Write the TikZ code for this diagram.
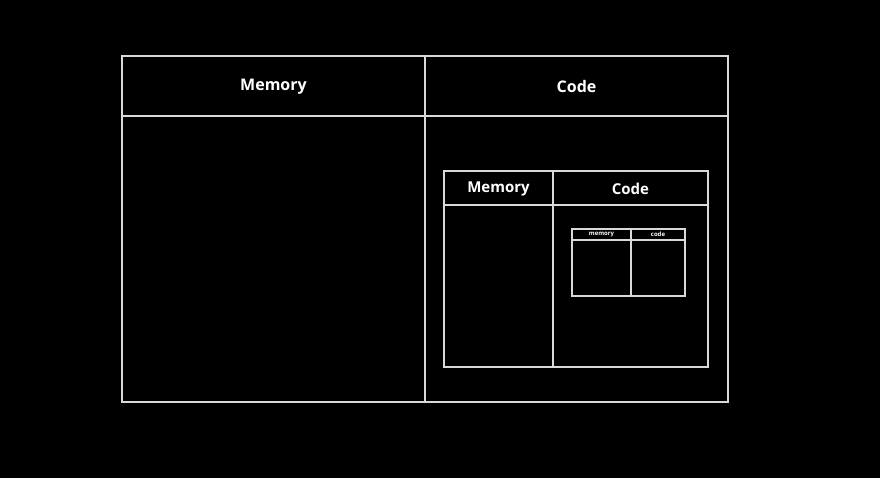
\documentclass[tikz,border=0pt]{standalone}
\usepackage{fontspec}
\setmainfont{Open Sans}
\begin{document}
\begin{tikzpicture}[x=1pt,y=-1pt,
  box/.style={draw=gray!30,line width=2.6pt},
  lbl/.style={text=white,font=\bfseries,inner sep=0pt}]
\fill[black] (0,0) rectangle (880,478);
\useasboundingbox (0,0) rectangle (880,478);
% outer
\draw[box] (122,56) rectangle (728,402);
\draw[box] (425,56) -- (425,402);
\draw[box] (122,116) -- (728,116);
\node[lbl,font=\bfseries\fontsize{16}{18}\selectfont] (m1) at (273.5,87) {Memory};
\node[lbl,font=\bfseries\fontsize{16}{18}\selectfont] (c1) at (576.5,87) {Code};
% middle
\draw[box] (444,171) rectangle (708,367);
\draw[box] (553,171) -- (553,367);
\draw[box] (444,205) -- (708,205);
\node[lbl,font=\bfseries\fontsize{15}{17}\selectfont] (m2) at (498.5,188.5) {Memory};
\node[lbl,font=\bfseries\fontsize{15}{17}\selectfont] (c2) at (630.5,188.5) {Code};
% inner
\draw[draw=gray!30,line width=2pt] (572,229) rectangle (685,296);
\draw[draw=gray!30,line width=2pt] (631,229) -- (631,296);
\draw[draw=gray!30,line width=2pt] (572,240) -- (685,240);
\node[lbl,font=\bfseries\fontsize{6}{7}\selectfont] (m3) at (601.5,234.5) {memory};
\node[lbl,font=\bfseries\fontsize{6}{7}\selectfont] (c3) at (658,234.5) {code};
\end{tikzpicture}
\end{document}
